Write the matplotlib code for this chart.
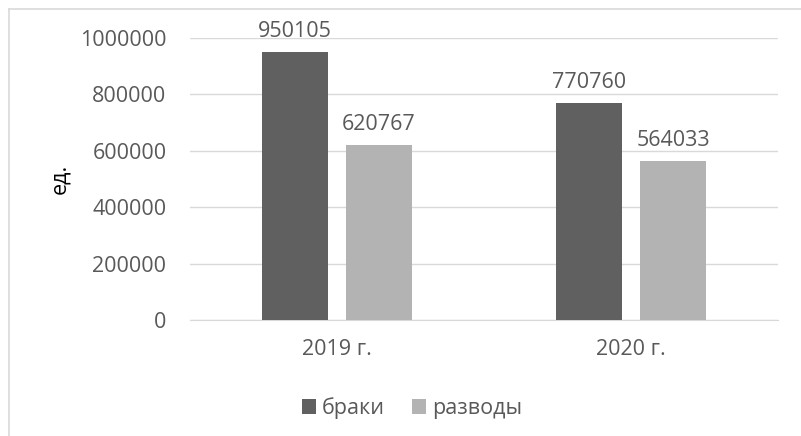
import numpy as np
import matplotlib.pyplot as plt
from matplotlib.lines import Line2D

plt.rcParams.update({
    "font.family": ["Open Sans", "DejaVu Sans"],
    "font.size": 15,
    "text.color": "#595959",
    "xtick.color": "#595959",
    "ytick.color": "#595959",
})

years = ["2019 г.", "2020 г."]
marriages = [950105, 770760]
divorces = [620767, 564033]
series_names = ["браки", "разводы"]

W, H = 801, 436
fig = plt.figure(figsize=(W / 100, H / 100), dpi=100)
ax = fig.add_axes([190 / W, 1 - 320 / H, 588 / W, 282 / H])

x = np.arange(len(years))
w = 0.2245
off = 0.143
b1 = ax.bar(x - off, marriages, w, color="#606060", label=series_names[0], zorder=3)
b2 = ax.bar(x + off, divorces, w, color="#b3b3b3", label=series_names[1], zorder=3)
ax.bar_label(b1, padding=7, fontsize=15.5)
ax.bar_label(b2, padding=7, fontsize=15.5)

ax.set_xlim(-0.5, 1.5)
ax.set_ylim(0, 1000000)
ax.set_yticks(np.arange(0, 1000001, 200000))
ax.set_yticklabels([f"{v:d}" for v in range(0, 1000001, 200000)], fontsize=15.5)
ax.set_xticks(x)
ax.set_xticklabels(years, fontsize=15.5)
ax.tick_params(axis="both", length=0)
ax.tick_params(axis="y", pad=17)
ax.tick_params(axis="x", pad=14)
ax.yaxis.grid(True, color="#d9d9d9", linewidth=1, zorder=0)
for s in ["top", "right", "left"]:
    ax.spines[s].set_visible(False)
ax.spines["bottom"].set_color("#d9d9d9")
ax.spines["bottom"].set_zorder(2)
ax.set_ylabel("ед.", fontsize=15.5, labelpad=7)

fig.legend(handles=[b1, b2], loc="center", bbox_to_anchor=(412 / W, 1 - 408 / H),
           ncol=2, frameon=False, fontsize=15.5, handlelength=0.65, handleheight=0.65,
           handletextpad=0.25, columnspacing=1.3)

# chart frame
fig.add_artist(Line2D([8.5 / W, 8.5 / W], [0, 1 - 9 / H], color="#d9d9d9", lw=1.2))
fig.add_artist(Line2D([8.5 / W, 1], [1 - 9 / H, 1 - 9 / H], color="#d9d9d9", lw=1.2))

fig.savefig("out.png", dpi=100)
